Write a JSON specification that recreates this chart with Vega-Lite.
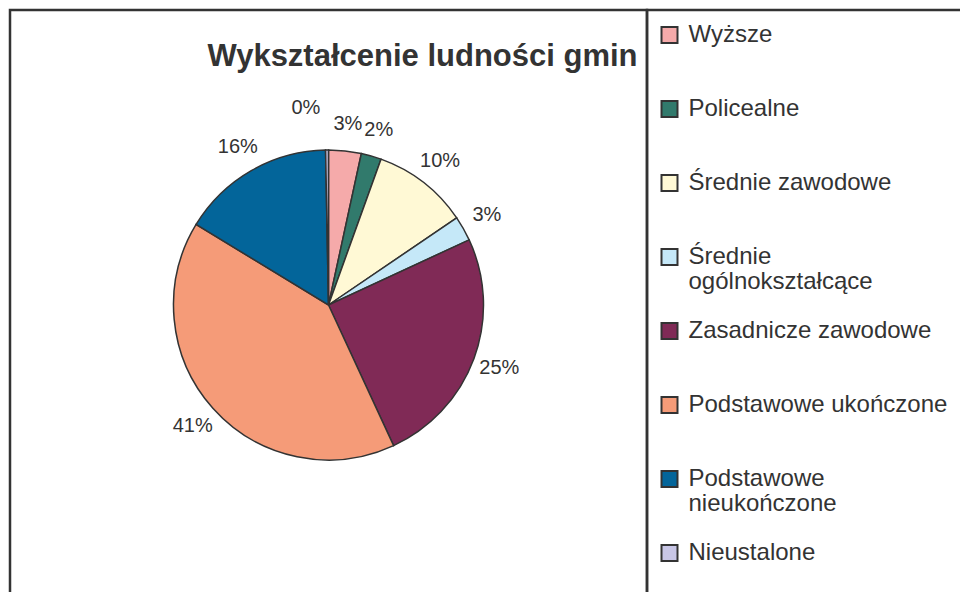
{
  "$schema": "https://vega.github.io/schema/vega-lite/v6.json",
  "background": "white",
  "padding": {"left": 8, "top": -2, "right": 0, "bottom": 0},
  "spacing": 0,
  "bounds": "flush",
  "config": {
    "font": "Liberation Sans",
    "view": {"stroke": "#333", "strokeWidth": 2.5},
    "concat": {"spacing": 0}
  },
  "data": {
    "values": [
      {"level": "Wyższe", "share": 0.034, "rank": 1},
      {"level": "Policealne", "share": 0.021, "rank": 2},
      {"level": "Średnie zawodowe", "share": 0.100, "rank": 3},
      {"level": "Średnie ogólnokształcące", "share": 0.026, "rank": 4},
      {"level": "Zasadnicze zawodowe", "share": 0.250, "rank": 5},
      {"level": "Podstawowe ukończone", "share": 0.406, "rank": 6},
      {"level": "Podstawowe nieukończone", "share": 0.160, "rank": 7},
      {"level": "Nieustalone", "share": 0.003, "rank": 8}
    ]
  },
  "hconcat": [
    {
      "width": 637,
      "height": 590,
      "view": {"stroke": "#333", "strokeWidth": 2.5},
      "title": {
        "text": "Wykształcenie ludności gmin",
        "fontSize": 31,
        "fontWeight": "bold",
        "color": "#333",
        "anchor": "middle",
        "frame": "group",
        "baseline": "alphabetic",
        "dx": 94,
        "offset": -87
      },
      "encoding": {
        "theta": {"field": "share", "type": "quantitative", "stack": true},
        "order": {"field": "rank", "type": "quantitative"},
        "color": {
          "field": "level",
          "type": "nominal",
          "sort": null,
          "scale": {
            "domain": ["Wyższe", "Policealne", "Średnie zawodowe", "Średnie ogólnokształcące", "Zasadnicze zawodowe", "Podstawowe ukończone", "Podstawowe nieukończone", "Nieustalone"],
            "range": ["#F5AAAA", "#317A6C", "#FFF9D5", "#C5E8F8", "#802A56", "#F59B78", "#03659A", "#C8C6E6"]
          },
          "legend": {
            "title": null,
            "orient": "none",
            "legendX": 647.5,
            "legendY": -12,
            "padding": 0,
            "clipHeight": 74,
            "rowPadding": 0,
            "symbolType": "square",
            "symbolSize": 256,
            "symbolStrokeColor": "#333",
            "symbolStrokeWidth": 2,
            "labelFont": "Liberation Sans",
            "labelFontSize": 24,
            "labelColor": "#333",
            "labelOffset": 7,
            "labelLimit": 400,
            "labelBaseline": "middle",
            "labelExpr": "datum.label == 'Średnie ogólnokształcące' ? ['Średnie', 'ogólnokształcące'] : datum.label == 'Podstawowe nieukończone' ? ['Podstawowe', 'nieukończone'] : datum.label",
            "encode": {"labels": {"update": {"lineHeight": {"value": 25}}}}
          }
        }
      },
      "layer": [
        {"mark": {"type": "arc", "outerRadius": 155, "stroke": "#333", "strokeWidth": 1.5}},
        {
          "transform": [{"filter": "datum.share >= 0.01"}],
          "mark": {"type": "text", "radius": 182, "fontSize": 20, "fill": "#333", "font": "Liberation Sans"},
          "encoding": {"text": {"field": "share", "type": "quantitative", "format": ".0%"}}
        },
        {
          "transform": [{"filter": "datum.share < 0.01"}],
          "mark": {"type": "text", "radius": 197, "fontSize": 20, "fill": "#333", "align": "right", "dx": -10, "font": "Liberation Sans"},
          "encoding": {"text": {"field": "share", "type": "quantitative", "format": ".0%"}}
        }
      ]
    },
    {
      "width": 320,
      "height": 590,
      "view": {"stroke": "#333", "strokeWidth": 2.5},
      "data": {"values": []},
      "mark": "point"
    }
  ]
}
